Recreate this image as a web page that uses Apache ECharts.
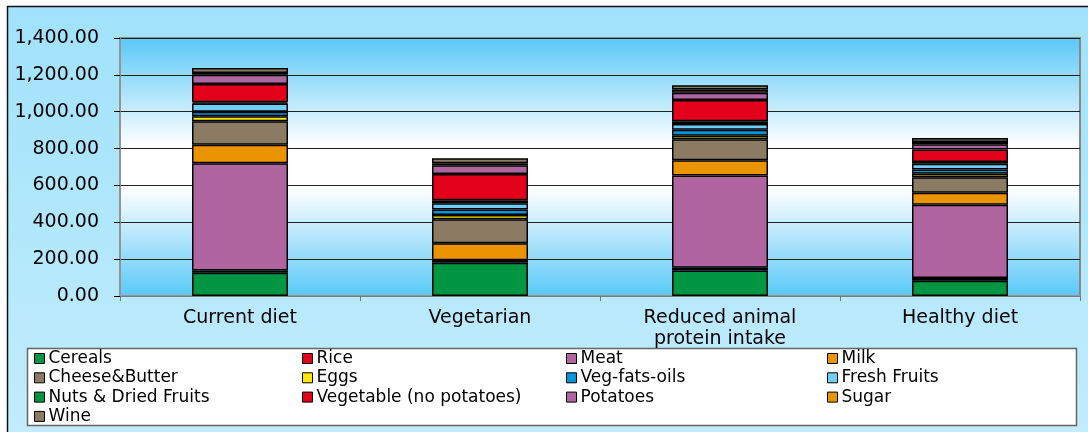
<!DOCTYPE html>
<html>
<head>
<meta charset="utf-8">
<script src="https://cdn.jsdelivr.net/npm/echarts@6/dist/echarts.min.js"></script>
<style>
html,body{margin:0;padding:0;background:#fff;}
#main{width:1088px;height:432px;}
</style>
</head>
<body>
<div id="main"></div>
<script>
let diets=["Current diet","Vegetarian","Reduced animal\nprotein intake","Healthy diet"];
let yTicks=[0,200,400,600,800,1000,1200,1400];

let cereals=[126,180,138,83];
let rice=[12,14,15,14];
let meat=[583,0,501,398];
let milk=[100,92,83,65];
let cheeseButter=[127,130,114,85];
let eggs=[27,24,19,18];
let vegFatsOils=[25,30,32,24];
let freshFruits=[44,33,31,31];
let nutsDried=[7,16,15,9];
let vegetable=[99,143,115,68];
let potatoes=[51,47,40,29];
let sugar=[9,11,18,11];
let wine=[27,27,22,22];

let names=["Cereals","Rice","Meat","Milk","Cheese&Butter","Eggs","Veg-fats-oils","Fresh Fruits",
    "Nuts & Dried Fruits","Vegetable (no potatoes)","Potatoes","Sugar","Wine"];
let values=[cereals,rice,meat,milk,cheeseButter,eggs,vegFatsOils,freshFruits,nutsDried,vegetable,potatoes,sugar,wine];
let colors=["#009540","#e2001a","#b064a0","#ea9500","#8b7b63","#ffe800","#0097d8","#6ecff6",
    "#009540","#e2001a","#b064a0","#ea9500","#8b7b63"];

let font="DejaVu Sans";

let series=[];
for(let i=0;i<names.length;i++){
    series.push({
        name:names[i],
        type:'bar',
        stack:'diet',
        barWidth:'40%',
        data:values[i],
        itemStyle:{color:colors[i],borderColor:'#000',borderWidth:1.5}
    });
}

// legend columns
let cols=[
    {left:34,data:["Cereals","Cheese&Butter","Nuts & Dried Fruits","Wine"]},
    {left:302,data:["Rice","Eggs","Vegetable (no potatoes)"]},
    {left:566,data:["Meat","Veg-fats-oils","Potatoes"]},
    {left:827,data:["Milk","Fresh Fruits","Sugar"]}
];
let legends=cols.map(function(c){
    return {
        orient:'vertical',
        left:c.left,
        top:350,
        height:82,
        itemGap:2.3,
        itemWidth:10,
        itemHeight:10,
        icon:'rect',
        padding:0,
        data:c.data,
        selectedMode:false,
        itemStyle:{borderColor:'#000',borderWidth:1},
        textStyle:{fontFamily:font,fontSize:17,lineHeight:17,color:'#000',padding:[0,0,0,-1]}
    };
});

var myChart=echarts.init(document.getElementById('main'));
var option={
    animation:false,
    backgroundColor:'#fff',
    graphic:[
        {type:'rect',shape:{x:7.5,y:6.5,width:1100,height:500},
            style:{fill:new echarts.graphic.LinearGradient(0,0,0,1,[
                {offset:0,color:'#a0e2fb'},
                {offset:1,color:'#c8eefc'}
            ]),stroke:'#111',lineWidth:1.5},z:-10},
        {type:'rect',shape:{x:27.5,y:348.5,width:1049,height:77},style:{fill:'#fff',stroke:'#666',lineWidth:1.5},z:-1}
    ],
    legend:legends,
    grid:{
        left:120,
        right:8,
        top:38,
        bottom:136,
        show:true,
        borderWidth:2,
        borderColor:'#888',
        backgroundColor:new echarts.graphic.LinearGradient(0,0,0,1,[
            {offset:0,color:'#58c8f8'},
            {offset:0.42,color:'#ffffff'},
            {offset:0.58,color:'#ffffff'},
            {offset:1,color:'#58c8f8'}
        ])
    },
    xAxis:{
        type:'category',
        data:diets,
        axisLine:{lineStyle:{color:'#999',width:1.5}},
        axisTick:{show:true,length:5,lineStyle:{color:'#777'}},
        axisLabel:{fontFamily:font,fontSize:19,color:'#000',margin:12,lineHeight:21}
    },
    yAxis:{
        type:'value',
        min:yTicks[0],
        max:yTicks[yTicks.length-1],
        interval:200,
        axisLine:{show:true,lineStyle:{color:'#999',width:1.5}},
        axisTick:{show:true,length:6,lineStyle:{color:'#000'}},
        splitLine:{lineStyle:{color:'#222',width:1}},
        axisLabel:{
            fontFamily:font,fontSize:19,color:'#000',margin:21,
            formatter:function(v){
                return v.toLocaleString('en-US',{minimumFractionDigits:2,maximumFractionDigits:2});
            }
        }
    },
    series:series
};
myChart.setOption(option);
</script>
</body>
</html>
